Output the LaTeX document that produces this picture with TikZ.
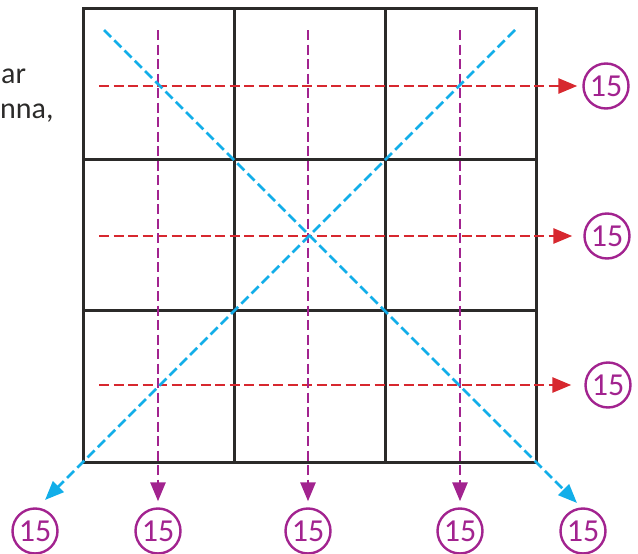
\documentclass[tikz,border=0pt]{standalone}
\usepackage{fontspec}
\setmainfont{Carlito}
\usetikzlibrary{arrows.meta}
\definecolor{gridc}{HTML}{2B2A29}
\definecolor{redc}{HTML}{D7282F}
\definecolor{purc}{HTML}{A2238F}
\definecolor{cyanc}{HTML}{12AEE9}
\begin{document}
\begin{tikzpicture}[x=1pt,y=-1pt,
 gridline/.style={gridc, line width=3pt, line cap=rect},
 darr/.style={line width=2.8pt, dash pattern=on 10pt off 4.5pt, -{Triangle[length=19pt,width=15pt]}},
 redarr/.style={darr, redc},
 purarr/.style={darr, purc},
 cyanarr/.style={darr, cyanc},
 num/.style={circle, draw=purc, line width=2.4pt, text=purc, minimum size=45pt, inner sep=0pt, font=\fontsize{32}{32}\selectfont},
 lefttext/.style={anchor=base west, inner sep=0pt, text=gridc, font=\fontsize{30}{30}\selectfont}]
\useasboundingbox (0,0) rectangle (638,554);
% left text (cut off)
\node[lefttext] (t1) at (1,83) {ar};
\node[lefttext] (t2) at (0,118) {nna,};
% grid
\foreach \x in {83,234,385,536} \draw[gridline] (\x,8) -- (\x,462);
\foreach \y in {8,159,310,462} \draw[gridline] (83,\y) -- (536,\y);
% circles
\node[num] (c1) at (606,86) {15};
\node[num] (c2) at (607,236) {15};
\node[num] (c3) at (608,385) {15};
\node[num] (b1) at (35,531) {15};
\node[num] (b2) at (158,531) {15};
\node[num] (b3) at (308,531) {15};
\node[num] (b4) at (460,531) {15};
\node[num] (b5) at (583,531) {15};
% start points
\coordinate (r1) at (99,86);
\coordinate (r2) at (99,236);
\coordinate (r3) at (99,385);
\coordinate (p1) at (158,30);
\coordinate (p2) at (308,30);
\coordinate (p3) at (460,30);
\coordinate (d1s) at (104,30);
\coordinate (d1e) at (577,503);
\coordinate (d2s) at (515,30);
\coordinate (d2e) at (45,500);
% arrows
\draw[redarr, shorten >=5pt] (r1) -- (c1.west);
\draw[redarr, shorten >=11pt] (r2) -- (c2.west);
\draw[redarr, shorten >=13pt] (r3) -- (c3.west);
\draw[purarr, shorten >=6pt] (p1) -- (b2.north);
\draw[purarr, shorten >=6pt] (p2) -- (b3.north);
\draw[purarr, shorten >=6pt] (p3) -- (b4.north);
\draw[cyanarr] (d1s) -- (d1e);
\draw[cyanarr] (d2s) -- (d2e);
\end{tikzpicture}
\end{document}
